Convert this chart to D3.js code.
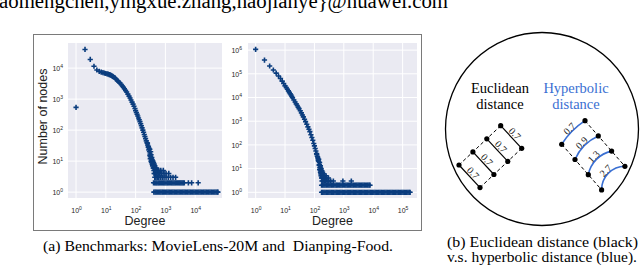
<!DOCTYPE html>
<html><head><meta charset="utf-8">
<script src="https://cdn.jsdelivr.net/npm/d3@7"></script>
<style>body{margin:0;background:#fff}svg{display:block}.serif{font-family:"Liberation Serif","Times New Roman",serif}</style>
</head><body><svg id="c" width="640" height="265"></svg>
<script>
// ---------------- DATA ----------------
// MovieLens-20M degree distribution: [degree, number of nodes]
const mlCurve = [[1,540],[2,40000],[3,19000],[4,11500],[5,8700],[6,7900],[7,7400],[8,7100],[9,6900],[10,6700],[11,6500],[12,6350],[13,6200],[14,6050],[15,5850],[16,5650],[17,5450],[18,5250],[20,4900],[22,4400],[24,4000],[26,3750],[28,3500],[30,3300],[33,2950],[36,2650],[39,2400],[42,2150],[46,1900],[50,1700],[55,1450],[60,1250],[65,1080],[70,940],[76,800],[82,690],[88,590],[95,500],[100,424],[106,368],[112,324],[118,284],[125,247],[132,216],[140,188],[148,161],[156,138],[165,118],[175,100],[185,85],[195,72],[205,62],[216,53],[228,45],[240,39],[252,33],[265,28],[278,23],[292,20],[306,17],[320,14],[335,12],[350,10],[365,9],[380,8],[400,6],[420,4]];
const mlSpread = [[270,30],[300,24],[250,38],[285,26],[320,20],[300,15],[330,16],[350,13],[310,12],[360,11],[330,10],[380,10],[400,9],[340,9],[360,8],[420,8],[440,7],[370,7],[390,6],[460,6],[500,6],[410,5],[440,5],[480,5],[540,5],[600,5],[700,5],[850,5],[430,4],[470,4],[520,4],[580,4],[650,4],[750,4],[900,4],[1050,4],[1300,4],[440,3],[480,3],[530,3],[600,3],[680,3],[780,3],[900,3],[1050,3],[1250,3],[1500,3],[1800,3],[2200,3]];
const mlRow2 = [400,440,480,520,570,620,680,740,810,880,960,1050,1150,1250,1370,1500,1640,1790,1950,2130,2330,2550,2780,3040,3320,3620,3950,4300,5900,7600,12600];
const mlRow1 = [410,450,490,540,590,650,710,780,850,930,1020,1120,1230,1350,1480,1630,1790,1970,2170,2390,2630,2890,3180,3500,3850,4230,4650,5120,5630,6200,6820,7500,8250,9070,9980,10980,12080,13280,14610,16070,17680,19450,21400,23540,25890,28480,31330,34460,37910,41700,45870,50460,55500,58000];
const mlXTicks = [1,10,100,1000,10000];
const mlYTicks = [1,10,100,1000,10000];

// Dianping-Food degree distribution
const dpCurve = [[1,1070000],[2,380000],[3,214000],[4,145000],[5,107000],[6,81000],[7,63000],[8,49000],[9,39000],[10,31000],[11,26600],[12,22300],[13,19000],[14,16500],[15,14400],[16,12700],[17,11100],[18,9800],[20,7800],[22,6500],[24,5400],[26,4600],[28,3900],[30,3400],[33,2750],[36,2240],[39,1830],[42,1520],[46,1210],[50,960],[55,740],[60,575],[65,455],[70,365],[76,270],[82,205],[88,158],[95,115],[100,91],[106,71],[112,55],[118,43],[125,33],[132,26],[140,20],[148,15],[156,11],[165,8],[172,5],[180,4]];
const dpSpread = [[130,30],[140,25],[120,40],[135,22],[150,18],[145,14],[160,13],[155,11],[170,10],[150,9],[165,9],[180,8],[160,7],[175,7],[190,7],[165,6],[180,6],[200,6],[170,5],[185,5],[200,5],[220,5],[250,5],[175,4],[190,4],[210,4],[230,4],[260,4],[300,4],[180,3],[195,3],[215,3],[240,3],[270,3],[310,3],[360,3],[440,3],[930,3],[1800,3]];
const dpRow2 = [175,190,210,230,255,280,310,340,375,410,450,500,550,600,660,730,800,880,970,1070,1180,1300,1430,1570,1730,1900,2090,2300,2530,2780,3060,3370,3700,4070,4480,4930,5420,5960,6560,7220,7800];
const dpRow1 = [175,190,210,230,255,280,310,340,375,410,450,500,550,600,660,730,800,880,970,1070,1180,1300,1430,1570,1730,1900,2090,2300,2530,2780,3060,3370,3700,4070,4480,4930,5420,5960,6560,7220,7940,8730,9600,10560,11620,12780,14060,15470,17010,18710,20580,22640,24910,27400,30140,33150,36470,40110,44120,48540,53390,58730,64600,71060,78170,85990,94590,104000,114400,125800,138400,152300,167500,180000];
const dpXTicks = [1,10,100,1000,10000,100000];
const dpYTicks = [1,10,100,1000,10000,100000,1000000];

// Illustration labels
const eucLabels = ["0.7","0.7","0.7","0.7"];
const hypLabels = ["0.7","0.9","1.3","2.7"];

// ---------------- DRAW ----------------
const svg = d3.select("#c");
const MARK = "#0b3d7e";
const SANS = "'Liberation Sans', Arial, sans-serif";

// top cut-off text line
svg.append("text").attr("class","serif").attr("x",-1).attr("y",7.5).attr("font-size",20)
  .attr("textLength",449).attr("lengthAdjust","spacingAndGlyphs")
  .text("aomengchen,yingxue.zhang,haojianye}@huawei.com");

// frame around (a)
svg.append("rect").attr("x",33.5).attr("y",34.5).attr("width",388).attr("height",196)
  .attr("fill","none").attr("stroke","#7a7a7a").attr("stroke-width",1);

function supLabel(sel, d){
  const t = d3.select(sel);
  t.text(null);
  t.append("tspan").text("10");
  t.append("tspan").attr("dy","-3").attr("font-size",5).text(Math.round(Math.log10(d)));
}

function panel(cfg){
  const x = d3.scaleLog().domain(cfg.xDom).range([cfg.x0,cfg.x1]);
  const y = d3.scaleLog().domain(cfg.yDom).range([cfg.y1,cfg.y0]);
  const g = svg.append("g");
  g.append("rect").attr("x",cfg.x0).attr("y",cfg.y0).attr("width",cfg.x1-cfg.x0).attr("height",cfg.y1-cfg.y0).attr("fill","#eaeaf2");
  g.selectAll("line.vg").data(cfg.xTicks).join("line").attr("class","vg")
    .attr("x1",d=>x(d)).attr("x2",d=>x(d)).attr("y1",cfg.y0).attr("y2",cfg.y1)
    .attr("stroke","#fff").attr("stroke-width",1);
  g.selectAll("line.hg").data(cfg.yTicks).join("line").attr("class","hg")
    .attr("y1",d=>y(d)).attr("y2",d=>y(d)).attr("x1",cfg.x0).attr("x2",cfg.x1)
    .attr("stroke","#fff").attr("stroke-width",1);
  const pts = [...cfg.curve, ...cfg.spread, ...cfg.row2.map(d=>[d,2]), ...cfg.row1.map(d=>[d,1])];
  g.selectAll("path.m").data(pts).join("path").attr("class","m")
    .attr("d","M-2.6,0H2.6M0,-2.6V2.6")
    .attr("transform",d=>`translate(${x(d[0])},${y(d[1])})`)
    .attr("stroke",MARK).attr("stroke-width",1.6).attr("fill","none");
  const ax = g.append("g").attr("transform",`translate(0,${cfg.y1})`)
    .call(d3.axisBottom(x).tickValues(cfg.xTicks).tickSize(0).tickPadding(10).tickFormat(()=>""));
  ax.select(".domain").remove();
  ax.attr("font-family",SANS).attr("font-size",7);
  ax.selectAll(".tick text").attr("fill","#262626").each(function(d){supLabel(this,d);});
  const ay = g.append("g").attr("transform",`translate(${cfg.x0},0)`)
    .call(d3.axisLeft(y).tickValues(cfg.yTicks).tickSize(0).tickPadding(cfg.ypad).tickFormat(()=>""));
  ay.select(".domain").remove();
  ay.attr("font-family",SANS).attr("font-size",7);
  ay.selectAll(".tick text").attr("fill","#262626").each(function(d){supLabel(this,d);});
  g.append("text").attr("x",(cfg.x0+cfg.x1)/2).attr("y",225).attr("text-anchor","middle")
    .attr("font-family",SANS).attr("font-size",12.5).attr("fill","#222").text("Degree");
  if(cfg.ylabel){
    g.append("text").attr("transform",`translate(46.5,${(cfg.y0+cfg.y1)/2 - 4}) rotate(-90)`)
      .attr("text-anchor","middle").attr("font-family",SANS).attr("font-size",12.5).attr("fill","#222")
      .text(cfg.ylabel);
  }
}

panel({x0:68,x1:222,y0:43,y1:198,xDom:[Math.pow(10,-0.27),Math.pow(10,4.9)],yDom:[Math.pow(10,-0.19),Math.pow(10,4.81)],
  xTicks:mlXTicks,yTicks:mlYTicks,curve:mlCurve,spread:mlSpread,row2:mlRow2,row1:mlRow1,ypad:5,ylabel:"Number of nodes"});
panel({x0:248,x1:417,y0:43,y1:198,xDom:[Math.pow(10,-0.26),Math.pow(10,5.49)],yDom:[Math.pow(10,-0.24),Math.pow(10,6.3)],
  xTicks:dpXTicks,yTicks:dpYTicks,curve:dpCurve,spread:dpSpread,row2:dpRow2,row1:dpRow1,ypad:6});

// caption (a)
svg.append("text").attr("class","serif").attr("x",43).attr("y",250.5).attr("font-size",15)
  .attr("textLength",350).attr("lengthAdjust","spacingAndGlyphs").style("white-space","pre")
  .text("(a) Benchmarks: MovieLens-20M and  Dianping-Food.");

// ---------------- (b) illustration ----------------
const BLUE = "#3a6fd2";
svg.append("circle").attr("cx",542).attr("cy",129).attr("r",96.5).attr("fill","none").attr("stroke","#000").attr("stroke-width",1.3);

const lab = svg.append("g").attr("class","serif").attr("font-size",14.5).attr("text-anchor","middle");
lab.append("text").attr("x",500).attr("y",92.5).text("Euclidean");
lab.append("text").attr("x",500).attr("y",108.5).text("distance");
lab.append("text").attr("x",576).attr("y",92.5).attr("fill",BLUE).text("Hyperbolic");
lab.append("text").attr("x",576).attr("y",108.5).attr("fill",BLUE).text("distance");

function ladder(labels, start, rung, step, hyp){
  const pairs = labels.map((l,i)=>{
    const a=[start[0]+i*step[0], start[1]+i*step[1]];
    const b=[a[0]+rung[0], a[1]+rung[1]];
    return {l,a,b,i};
  });
  const g = svg.append("g");
  const n = pairs.length-1;
  ["a","b"].forEach(k=>{
    g.append("line").attr("x1",pairs[0][k][0]).attr("y1",pairs[0][k][1]).attr("x2",pairs[n][k][0]).attr("y2",pairs[n][k][1])
      .attr("stroke","#000").attr("stroke-width",1).attr("stroke-dasharray","3.5,2.5");
  });
  const len = Math.hypot(rung[0],rung[1]);
  const ang = Math.atan2(rung[1],rung[0])*180/Math.PI;
  const perp = [rung[1]/len, -rung[0]/len];
  const radii = [80,45,30,23.5];
  pairs.forEach(p=>{
    let off = 5;
    if(hyp){
      const r = radii[p.i];
      g.append("path").attr("d",`M${p.a[0]},${p.a[1]}A${r},${r} 0 0,1 ${p.b[0]},${p.b[1]}`)
        .attr("fill","none").attr("stroke",BLUE).attr("stroke-width",1.6);
      off = r - Math.sqrt(r*r - len*len/4) + 3.8;
    } else {
      g.append("line").attr("x1",p.a[0]).attr("y1",p.a[1]).attr("x2",p.b[0]).attr("y2",p.b[1])
        .attr("stroke","#000").attr("stroke-width",1.2);
    }
    const mx=(p.a[0]+p.b[0])/2+perp[0]*off, my=(p.a[1]+p.b[1])/2+perp[1]*off;
    g.append("text").attr("class","serif").attr("transform",`translate(${mx},${my}) rotate(${ang})`).attr("dy","0.35em")
      .attr("text-anchor","middle").attr("font-size",10).attr("fill","#222").text(p.l);
  });
  pairs.forEach(p=>{
    [p.a,p.b].forEach(c=>g.append("circle").attr("cx",c[0]).attr("cy",c[1]).attr("r",2.6).attr("fill","#000"));
  });
}
ladder(eucLabels,[500.7,125.7],[21,22.6],[-13.9,13.1],false);
ladder(hypLabels,[561.7,144.3],[23.3,-23.6],[13.3,15.2],true);

// caption (b)
const cb = svg.append("g").attr("class","serif").attr("font-size",14.5);
cb.append("text").attr("x",447).attr("y",246.5).attr("textLength",191).attr("lengthAdjust","spacingAndGlyphs").text("(b) Euclidean distance (black)");
cb.append("text").attr("x",447).attr("y",261.5).attr("textLength",190).attr("lengthAdjust","spacingAndGlyphs").text("v.s. hyperbolic distance (blue).");
</script></body></html>
